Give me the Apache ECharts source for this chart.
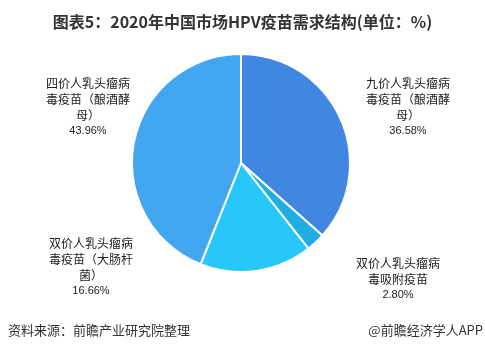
<!DOCTYPE html>
<html>
<head>
<meta charset="utf-8">
<script src="https://cdn.jsdelivr.net/npm/echarts@6/dist/echarts.min.js"></script>
<style>
  html, body { margin: 0; padding: 0; background: #fff; }
  #main { width: 485px; height: 351px; }
</style>
</head>
<body>
<div id="main"></div>
<script>
// 疫苗类型
var names = [
  "九价人乳头瘤病毒疫苗（酿酒酵母）",
  "双价人乳头瘤病毒吸附疫苗",
  "双价人乳头瘤病毒疫苗（大肠杆菌）",
  "四价人乳头瘤病毒疫苗（酿酒酵母）"
];
// 占比(%)
var shares = [36.58, 2.80, 16.66, 43.96];
var colors = ["#4187e2", "#1eaee3", "#27c7fb", "#43a6f0"];

// 标签位置
var labelPos = [[408, 75], [398, 255], [91, 235], [88, 75]];

var chart = echarts.init(document.getElementById("main"));
var font = "'Noto Sans CJK SC', sans-serif";

// 每行7个字
function wrap(s, n) {
  var out = [];
  for (var i = 0; i < s.length; i += n) out.push(s.slice(i, i + n));
  return out.join("\n");
}

var option = {
  backgroundColor: "#fff",
  animation: false,
  title: {
    text: "图表5：2020年中国市场HPV疫苗需求结构(单位：%)",
    left: "center",
    top: 9,
    textStyle: { fontFamily: font, fontSize: 16, fontWeight: "bold", color: "#333" }
  },
  graphic: [
    {
      type: "text", left: 8, top: 324,
      style: { text: "资料来源：前瞻产业研究院整理", fill: "#333", font: "13px " + font }
    },
    {
      type: "text", right: 2, top: 324,
      style: { text: "@前瞻经济学人APP", fill: "#333", font: "13px " + font }
    }
  ],
  series: [
    {
      type: "pie",
      center: [241, 163],
      radius: 109,
      startAngle: 90,
      clockwise: true,
      itemStyle: { borderColor: "#fff", borderWidth: 2 },
      labelLine: { show: false },
      label: {
        show: true,
        position: "outside",
        overflow: "none",
        color: "#222",
        fontFamily: font,
        fontSize: 12,
        lineHeight: 16,
        align: "center",
        formatter: function (p) {
          return wrap(p.name, 7) + "\n{p|" + p.value.toFixed(2) + "%}";
        },
        rich: {
          p: { fontSize: 11, lineHeight: 16, color: "#222", fontFamily: "Arial, sans-serif" }
        }
      },
      labelLayout: function (params) {
        var pos = labelPos[params.dataIndex];
        return { x: pos[0], y: pos[1], align: "center", verticalAlign: "top" };
      },
      data: names.map(function (n, i) {
        return { name: n, value: shares[i], itemStyle: { color: colors[i] } };
      })
    }
  ]
};

chart.setOption(option);
</script>
</body>
</html>
